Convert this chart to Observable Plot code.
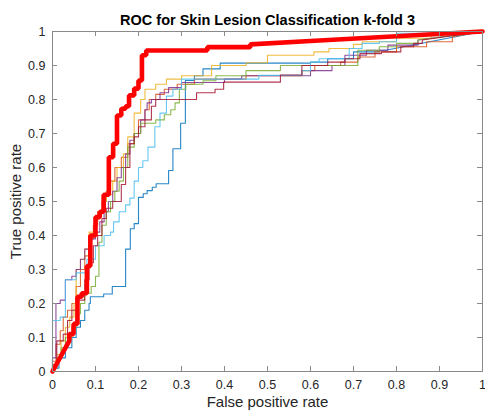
<!DOCTYPE html>
<html><head><meta charset="utf-8">
<script src="https://cdn.jsdelivr.net/npm/d3@7"></script>
<script src="https://cdn.jsdelivr.net/npm/@observablehq/plot@0.6"></script>
<style>
body{margin:0;background:#fff;font-family:"Liberation Sans",Arial,sans-serif;}
</style></head><body>
<div id="chart"></div>
<script>
const xTicks = [0,0.1,0.2,0.3,0.4,0.5,0.6,0.7,0.8,0.9,1];
const yTicks = [0,0.1,0.2,0.3,0.4,0.5,0.6,0.7,0.8,0.9,1];
const titleText = "ROC for Skin Lesion Classification k-fold 3";
const xLabel = "False positive rate";
const yLabel = "True positive rate";

// fold curves: [false positive rate, true positive rate] vertices
const foldBlue = [[0,0],[0,0.01],[0.015,0.01],[0.015,0.04],[0.03,0.04],[0.03,0.07],[0.045,0.07],[0.045,0.1],[0.055,0.1],[0.055,0.13],[0.065,0.13],[0.065,0.15],[0.075,0.15],[0.075,0.18],[0.085,0.18],[0.085,0.2],[0.088,0.2],[0.088,0.22],[0.119,0.22],[0.119,0.228],[0.139,0.228],[0.139,0.25],[0.17,0.25],[0.17,0.36],[0.181,0.36],[0.181,0.42],[0.19,0.42],[0.19,0.435],[0.2,0.435],[0.2,0.512],[0.211,0.512],[0.211,0.523],[0.22,0.523],[0.22,0.532],[0.232,0.532],[0.232,0.542],[0.241,0.542],[0.241,0.552],[0.27,0.552],[0.27,0.591],[0.28,0.591],[0.28,0.655],[0.298,0.655],[0.298,0.73],[0.309,0.73],[0.309,0.856],[0.33,0.856],[0.33,0.87],[0.35,0.87],[0.35,0.89],[0.39,0.89],[0.39,0.907],[0.6,0.907],[0.6,0.91],[0.64,0.91],[0.64,0.92],[0.7,0.92],[0.7,0.94],[0.76,0.94],[0.76,0.945],[0.775,0.945],[1,1]];
const foldOrange = [[0,0],[0,0.03],[0.008,0.03],[0.008,0.08],[0.018,0.08],[0.018,0.12],[0.025,0.12],[0.025,0.16],[0.035,0.16],[0.035,0.18],[0.045,0.18],[0.045,0.2],[0.055,0.2],[0.055,0.25],[0.065,0.25],[0.065,0.3],[0.075,0.3],[0.075,0.34],[0.085,0.34],[0.085,0.39],[0.095,0.39],[0.095,0.43],[0.105,0.43],[0.105,0.47],[0.115,0.47],[0.115,0.5],[0.125,0.5],[0.125,0.53],[0.135,0.53],[0.135,0.56],[0.145,0.56],[0.145,0.6],[0.16,0.6],[0.16,0.63],[0.175,0.63],[0.175,0.67],[0.19,0.67],[0.19,0.7],[0.2,0.7],[0.2,0.74],[0.215,0.74],[0.215,0.77],[0.225,0.77],[0.225,0.8],[0.24,0.8],[0.24,0.815],[0.26,0.815],[0.26,0.83],[0.29,0.83],[0.29,0.845],[0.33,0.845],[0.33,0.86],[0.45,0.86],[0.45,0.87],[0.58,0.87],[0.58,0.885],[0.61,0.885],[0.61,0.9],[0.67,0.9],[0.67,0.91],[0.71,0.91],[0.71,0.925],[0.75,0.925],[0.75,0.94],[0.8,0.94],[0.8,0.955],[0.87,0.955],[0.87,0.97],[0.93,0.97],[0.93,0.985],[1,1]];
const foldYellow = [[0,0],[0,0.02],[0.01,0.02],[0.01,0.05],[0.02,0.05],[0.02,0.09],[0.03,0.09],[0.03,0.13],[0.04,0.13],[0.04,0.16],[0.05,0.16],[0.05,0.2],[0.055,0.2],[0.055,0.3],[0.065,0.3],[0.065,0.33],[0.075,0.33],[0.075,0.36],[0.085,0.36],[0.085,0.41],[0.1,0.41],[0.1,0.45],[0.11,0.45],[0.11,0.47],[0.12,0.47],[0.12,0.5],[0.125,0.5],[0.125,0.52],[0.14,0.52],[0.14,0.56],[0.15,0.56],[0.15,0.6],[0.165,0.6],[0.165,0.64],[0.175,0.64],[0.175,0.69],[0.19,0.69],[0.19,0.76],[0.205,0.76],[0.205,0.8],[0.215,0.8],[0.215,0.83],[0.24,0.83],[0.24,0.845],[0.265,0.845],[0.265,0.86],[0.3,0.86],[0.3,0.87],[0.37,0.87],[0.37,0.9],[0.45,0.9],[0.45,0.908],[0.5,0.908],[0.5,0.93],[0.608,0.93],[0.608,0.94],[0.643,0.94],[0.643,0.95],[0.7,0.95],[0.7,0.962],[0.72,0.962],[0.72,0.97],[0.8,0.97],[0.8,0.98],[0.88,0.98],[0.88,0.99],[1,1]];
const foldPurple = [[0,0],[0,0.04],[0.008,0.04],[0.008,0.2],[0.018,0.2],[0.018,0.21],[0.03,0.21],[0.03,0.27],[0.045,0.27],[0.045,0.28],[0.055,0.28],[0.055,0.3],[0.065,0.3],[0.065,0.33],[0.075,0.33],[0.075,0.36],[0.09,0.36],[0.09,0.39],[0.1,0.39],[0.1,0.41],[0.11,0.41],[0.11,0.44],[0.12,0.44],[0.12,0.47],[0.13,0.47],[0.13,0.5],[0.14,0.5],[0.14,0.53],[0.15,0.53],[0.15,0.57],[0.16,0.57],[0.16,0.6],[0.17,0.6],[0.17,0.64],[0.18,0.64],[0.18,0.68],[0.19,0.68],[0.19,0.7],[0.205,0.7],[0.205,0.74],[0.215,0.74],[0.215,0.77],[0.22,0.77],[0.22,0.79],[0.23,0.79],[0.23,0.8],[0.25,0.8],[0.25,0.82],[0.27,0.82],[0.27,0.835],[0.3,0.835],[0.3,0.85],[0.4,0.85],[0.4,0.86],[0.44,0.86],[0.44,0.87],[0.6,0.87],[0.6,0.885],[0.65,0.885],[0.65,0.9],[0.68,0.9],[0.68,0.93],[0.73,0.93],[0.73,0.945],[0.78,0.945],[0.78,0.96],[0.85,0.96],[0.85,0.975],[1,1]];
const foldGreen = [[0,0],[0,0.01],[0.01,0.01],[0.01,0.04],[0.02,0.04],[0.02,0.07],[0.03,0.07],[0.03,0.1],[0.045,0.1],[0.045,0.13],[0.055,0.13],[0.055,0.17],[0.065,0.17],[0.065,0.2],[0.075,0.2],[0.075,0.23],[0.09,0.23],[0.09,0.25],[0.1,0.25],[0.1,0.28],[0.108,0.28],[0.108,0.38],[0.115,0.38],[0.115,0.43],[0.125,0.43],[0.125,0.47],[0.135,0.47],[0.135,0.5],[0.145,0.5],[0.145,0.53],[0.155,0.53],[0.155,0.56],[0.165,0.56],[0.165,0.6],[0.175,0.6],[0.175,0.66],[0.19,0.66],[0.19,0.7],[0.205,0.7],[0.205,0.73],[0.24,0.73],[0.24,0.74],[0.26,0.74],[0.26,0.755],[0.275,0.755],[0.275,0.77],[0.285,0.77],[0.285,0.79],[0.295,0.79],[0.295,0.83],[0.31,0.83],[0.31,0.845],[0.35,0.845],[0.35,0.855],[0.38,0.855],[0.38,0.87],[0.45,0.87],[0.45,0.885],[0.53,0.885],[0.53,0.9],[0.71,0.9],[0.71,0.945],[0.76,0.945],[0.76,0.955],[0.8,0.955],[0.8,0.965],[0.85,0.965],[0.85,0.975],[1,1]];
const foldLightBlue = [[0,0],[0,0.15],[0.018,0.15],[0.018,0.16],[0.03,0.16],[0.03,0.27],[0.055,0.27],[0.055,0.29],[0.08,0.29],[0.08,0.33],[0.1,0.33],[0.1,0.37],[0.12,0.37],[0.12,0.4],[0.135,0.4],[0.135,0.41],[0.142,0.41],[0.142,0.44],[0.155,0.44],[0.155,0.47],[0.17,0.47],[0.17,0.49],[0.18,0.49],[0.18,0.51],[0.19,0.51],[0.19,0.56],[0.2,0.56],[0.2,0.6],[0.21,0.6],[0.21,0.62],[0.222,0.62],[0.222,0.66],[0.238,0.66],[0.238,0.72],[0.25,0.72],[0.25,0.76],[0.265,0.76],[0.265,0.81],[0.28,0.81],[0.28,0.83],[0.3,0.83],[0.3,0.86],[0.48,0.86],[0.48,0.871],[0.58,0.871],[0.58,0.885],[0.6,0.885],[0.6,0.91],[0.62,0.91],[0.62,0.92],[0.69,0.92],[0.69,0.95],[0.72,0.95],[0.72,0.965],[0.76,0.965],[0.76,0.97],[0.8,0.97],[0.8,0.995],[0.9,0.995],[1,1]];
const foldDarkRed = [[0,0],[0,0.02],[0.01,0.02],[0.01,0.09],[0.025,0.09],[0.025,0.11],[0.035,0.11],[0.035,0.15],[0.045,0.15],[0.045,0.18],[0.06,0.18],[0.06,0.21],[0.075,0.21],[0.075,0.27],[0.085,0.27],[0.085,0.32],[0.095,0.32],[0.095,0.37],[0.105,0.37],[0.105,0.4],[0.115,0.4],[0.115,0.45],[0.125,0.45],[0.125,0.48],[0.14,0.48],[0.14,0.5],[0.16,0.5],[0.16,0.55],[0.17,0.55],[0.17,0.6],[0.18,0.6],[0.18,0.67],[0.19,0.67],[0.19,0.69],[0.2,0.69],[0.2,0.72],[0.215,0.72],[0.215,0.74],[0.23,0.74],[0.23,0.78],[0.24,0.78],[0.24,0.8],[0.335,0.8],[0.335,0.82],[0.378,0.82],[0.378,0.83],[0.398,0.83],[0.398,0.851],[0.53,0.851],[0.53,0.872],[0.58,0.872],[0.58,0.9],[0.64,0.9],[0.64,0.91],[0.68,0.91],[0.68,0.92],[0.715,0.92],[0.715,0.935],[0.765,0.935],[0.765,0.94],[0.81,0.94],[0.81,0.955],[0.84,0.955],[0.84,0.965],[0.86,0.965],[0.86,0.975],[1,1]];
// highlighted curve
const bestCurve = [[0,0],[0.039,0.09],[0.039,0.11],[0.049,0.11],[0.049,0.14],[0.058,0.14],[0.058,0.22],[0.068,0.22],[0.068,0.23],[0.08,0.23],[0.08,0.31],[0.088,0.31],[0.088,0.40],[0.1,0.40],[0.1,0.454],[0.11,0.454],[0.11,0.47],[0.119,0.47],[0.119,0.52],[0.131,0.52],[0.131,0.63],[0.141,0.63],[0.141,0.67],[0.15,0.67],[0.15,0.753],[0.16,0.753],[0.16,0.773],[0.17,0.773],[0.17,0.78],[0.178,0.78],[0.178,0.812],[0.19,0.812],[0.19,0.832],[0.2,0.832],[0.2,0.856],[0.208,0.856],[0.208,0.93],[0.218,0.93],[0.218,0.944],[0.36,0.944],[0.36,0.954],[0.46,0.954],[0.46,0.962],[0.6,0.972],[0.8,0.986],[1,1]];

const folds = [
  {pts: foldBlue, color: "#0072BD"},
  {pts: foldOrange, color: "#D95319"},
  {pts: foldYellow, color: "#EDB120"},
  {pts: foldPurple, color: "#7E2F8E"},
  {pts: foldGreen, color: "#77AC30"},
  {pts: foldLightBlue, color: "#4DBEEE"},
  {pts: foldDarkRed, color: "#A2142F"}
];

const axisColor = "#8a8a8a";
const chart = Plot.plot({
  width: 485, height: 410,
  marginLeft: 52, marginRight: 3, marginTop: 31, marginBottom: 39,
  x: {domain: [0, 1]},
  y: {domain: [0, 1]},
  style: {fontFamily: "'Liberation Sans', Arial, sans-serif", fontSize: "12.5px", color: "#262626", background: "white"},
  marks: [
    ...folds.map(f => Plot.line(f.pts, {x: d => d[0], y: d => d[1], stroke: f.color, strokeWidth: 1.1, strokeOpacity: 0.85, curve: "linear"})),
    Plot.line(bestCurve, {x: d => d[0], y: d => d[1], stroke: "#FF0000", strokeWidth: 4.6, curve: "linear", strokeLinejoin: "miter"}),
    Plot.frame({stroke: axisColor}),
    Plot.tickX(xTicks, {x: d => d, insetTop: 335, stroke: axisColor}),
    Plot.tickX(xTicks, {x: d => d, insetBottom: 335, stroke: axisColor}),
    Plot.tickY(yTicks, {y: d => d, insetRight: 425, stroke: axisColor}),
    Plot.tickY(yTicks, {y: d => d, insetLeft: 425, stroke: axisColor}),
    Plot.axisX({ticks: xTicks, tickSize: 0, tickPadding: 9, tickFormat: d => String(d), label: null}),
    Plot.axisY({ticks: yTicks, tickSize: 0, tickPadding: 7, tickFormat: d => String(d), label: null}),
    Plot.text([titleText], {frameAnchor: "top", dy: -11.6, lineAnchor: "middle", textAnchor: "middle", text: d => d, fontSize: 14.5, fontWeight: "bold", fill: "#000"}),
    Plot.text([xLabel], {frameAnchor: "bottom", dy: 30.5, lineAnchor: "middle", textAnchor: "middle", text: d => d, fontSize: 15, fill: "#262626"}),
    Plot.text([yLabel], {frameAnchor: "left", dx: -36, rotate: -90, lineAnchor: "middle", textAnchor: "middle", text: d => d, fontSize: 15, fill: "#262626"})
  ]
});
document.getElementById("chart").appendChild(chart);
</script>
</body></html>
